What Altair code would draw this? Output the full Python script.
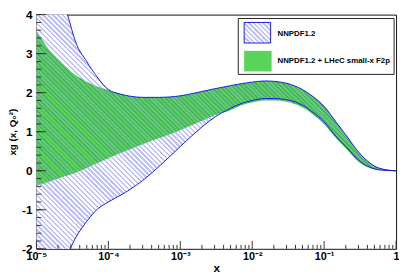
import altair as alt
import pandas as pd

# ---------------- data ----------------
xs = [1e-5, 1.5e-5, 2e-5, 2.7e-5, 3.5e-5, 5e-5, 7e-5, 1e-4, 1.5e-4, 2e-4, 3e-4,
      5e-4, 7e-4, 1e-3, 1.5e-3, 2e-3, 3e-3, 5e-3, 7e-3, 1e-2, 1.5e-2, 2e-2, 3e-2,
      5e-2, 7e-2, 0.1, 0.15, 0.2, 0.3, 0.4, 0.5, 0.7, 1.0]
# NNPDF1.2 band
nn_up = [7.0, 5.3, 4.6, 4.0, 3.3, 2.8, 2.4, 2.08, 1.96, 1.91, 1.88,
         1.88, 1.89, 1.92, 1.98, 2.03, 2.10, 2.18, 2.23, 2.27, 2.30, 2.29, 2.24,
         2.08, 1.90, 1.65, 1.22, 0.92, 0.48, 0.25, 0.12, 0.03, 0.0]
nn_lo = [-3.8, -3.1, -2.6, -2.15, -1.72, -1.3, -0.99, -0.80, -0.62, -0.48, -0.25,
         0.10, 0.35, 0.62, 0.92, 1.12, 1.37, 1.60, 1.72, 1.80, 1.85, 1.85, 1.82,
         1.68, 1.50, 1.25, 0.86, 0.62, 0.27, 0.12, 0.05, 0.01, 0.0]
# NNPDF1.2 + LHeC small-x F2p band
lh_up = [3.59, 3.1, 2.85, 2.62, 2.45, 2.28, 2.16, 2.07, 1.96, 1.91, 1.88,
         1.88, 1.89, 1.92, 1.98, 2.03, 2.10, 2.18, 2.23, 2.27, 2.30, 2.29, 2.24,
         2.08, 1.90, 1.65, 1.22, 0.92, 0.48, 0.25, 0.12, 0.03, 0.0]
lh_lo = [-0.38, -0.28, -0.20, -0.12, -0.05, 0.07, 0.19, 0.32, 0.46, 0.55, 0.68,
         0.83, 0.93, 1.04, 1.18, 1.28, 1.42, 1.55, 1.67, 1.75, 1.80, 1.80, 1.77,
         1.62, 1.44, 1.19, 0.81, 0.57, 0.23, 0.09, 0.03, 0.0, -0.01]

x_ticks = [1e-5, 1e-4, 1e-3, 1e-2, 1e-1, 1.0]
x_tick_labels = ["10⁻⁵", "10⁻⁴", "10⁻³", "10⁻²", "10⁻¹", "1"]
y_ticks = [-2, -1, 0, 1, 2, 3, 4]
y_tick_labels = ["-2", "-1", "0", "1", "2", "3", "4"]
legend_labels = ["NNPDF1.2", "NNPDF1.2 + LHeC small-x F2p"]

# ---------------- layout / style ----------------
W, H = 367, 239
YMIN, YMAX = -2, 4
FONT = "Liberation Sans"
BLUE = "#1a1ae8"
HATCH = "#c2c2fa"
GREEN = "#58d458"
GREEN_HATCH = "#52a87c"

df = pd.DataFrame({"x": xs, "nn_up": nn_up, "nn_lo": nn_lo,
                   "lh_up": lh_up, "lh_lo": lh_lo})

xscale = alt.Scale(type="log", domain=[1e-5, 1], nice=False)
yscale = alt.Scale(domain=[YMIN, YMAX], nice=False, zero=False)


def hatch(bw, bh, period, c_line, c_bg, frac):
    n = max(1, round((bw + bh) / period))
    s = (bw + bh) / (bw * bw + bh * bh)
    stops = []
    for i in range(n):
        a, b, c = i / n, (i + frac) / n, (i + 1) / n
        stops += [alt.GradientStop(offset=a, color=c_line),
                  alt.GradientStop(offset=b, color=c_line),
                  alt.GradientStop(offset=b, color=c_bg),
                  alt.GradientStop(offset=c, color=c_bg)]
    return alt.Gradient(gradient="linear", stops=stops,
                        x1=0, y1=1, x2=bw * s, y2=1 - bh * s)


ppu = H / (YMAX - YMIN)
blue_h = (max(nn_up) - min(nn_lo)) * ppu
green_h = (max(lh_up) - min(lh_lo)) * ppu

X_AXIS = alt.Axis(values=x_ticks, title="x", grid=False, ticks=False,
                  domain=False, labelFont=FONT, labelFontWeight="bold",
                  labelFontSize=11, labelColor="black", labelPadding=2,
                  labelFlush=False, labelOverlap=False,
                  labelExpr="[" + ",".join("'%s'" % t for t in x_tick_labels)
                  + "][round(log(datum.value)/LN10)+5]",
                  titleFont=FONT, titleFontWeight="bold", titleFontSize=12,
                  titleColor="black", titlePadding=1)
Y_AXIS = alt.Axis(values=y_ticks, title="xg (x, Q₀²)", grid=False, ticks=False,
                  domain=False, labels=False,
                  titleFont=FONT, titleFontWeight="bold", titleFontSize=10,
                  titleColor="black", titlePadding=19)


def X(field):
    return alt.X(field, type="quantitative", scale=xscale, axis=X_AXIS)


def Y(field):
    return alt.Y(field, type="quantitative", scale=yscale, axis=Y_AXIS)


base = alt.Chart(df)
blue_area = base.mark_area(fill=hatch(W, blue_h, 5.0, HATCH, "#ffffff", 0.5),
                           clip=True, interpolate="monotone").encode(
    x=X("x"), y=Y("nn_up"), y2="nn_lo:Q")

green_area = base.mark_area(fill=hatch(W, green_h, 4.5, GREEN_HATCH, GREEN, 0.4),
                            clip=True, interpolate="monotone").encode(
    x=X("x"), y=Y("lh_up"), y2="lh_lo:Q")

up_line = base.mark_line(color=BLUE, strokeWidth=1, clip=True,
                         interpolate="monotone").encode(x=X("x"), y=Y("nn_up"))
lo_line = base.mark_line(color=BLUE, strokeWidth=1, clip=True,
                         interpolate="monotone").encode(x=X("x"), y=Y("nn_lo"))

# inward tick marks (ROOT style)
x_minor = [k * d for d in [1e-5, 1e-4, 1e-3, 1e-2, 1e-1] for k in range(2, 10)]
y_minor = [round(YMIN + 0.2 * i, 1) for i in range(31)]
xt_major = alt.Chart(pd.DataFrame({"x": x_ticks})).mark_rule(color="#333", strokeWidth=1).encode(
    x=X("x"), y=alt.value(H), y2=alt.value(H - 8))
xt_minor = alt.Chart(pd.DataFrame({"x": x_minor})).mark_rule(color="#333", strokeWidth=1).encode(
    x=X("x"), y=alt.value(H), y2=alt.value(H - 4))
yt_major = alt.Chart(pd.DataFrame({"nn_up": y_ticks})).mark_rule(color="#333", strokeWidth=1).encode(
    y=Y("nn_up"), x=alt.value(0), x2=alt.value(10))
yt_minor = alt.Chart(pd.DataFrame({"nn_up": y_minor})).mark_rule(color="#333", strokeWidth=1).encode(
    y=Y("nn_up"), x=alt.value(0), x2=alt.value(5))
# y tick labels
y_lab = alt.Chart(pd.DataFrame({"nn_up": y_ticks, "t": y_tick_labels})).mark_text(
    align="right", baseline="middle", font=FONT, fontWeight="bold", fontSize=12,
    color="black").encode(y=Y("nn_up"), x=alt.value(-4), text="t:N")

# legend box
one = pd.DataFrame({"a": [0]})
leg_box = alt.Chart(one).mark_rect(
    fill="white", stroke="#222", strokeWidth=1).encode(
    x=alt.value(206), x2=alt.value(365), y=alt.value(4), y2=alt.value(61))
leg_blue = alt.Chart(one).mark_rect(
    fill=hatch(27, 21, 5.0, HATCH, "#ffffff", 0.5), stroke=BLUE, strokeWidth=1).encode(
    x=alt.value(212), x2=alt.value(239), y=alt.value(8), y2=alt.value(29))
leg_green = alt.Chart(one).mark_rect(fill=GREEN).encode(
    x=alt.value(212), x2=alt.value(240), y=alt.value(37), y2=alt.value(58))
leg_text1 = alt.Chart(one).mark_text(
    align="left", baseline="middle", font=FONT, fontWeight="bold", fontSize=8,
    color="black", text=legend_labels[0]).encode(x=alt.value(246), y=alt.value(19.5))
leg_text2 = alt.Chart(one).mark_text(
    align="left", baseline="middle", font=FONT, fontWeight="bold", fontSize=8,
    color="black", text=legend_labels[1]).encode(x=alt.value(246), y=alt.value(47.5))

chart = alt.layer(blue_area, green_area, up_line, lo_line,
                  xt_major, xt_minor, yt_major, yt_minor, y_lab,
                  leg_box, leg_blue, leg_green, leg_text1, leg_text2).properties(
    width=W, height=H,
    autosize=alt.AutoSizeParams(type="none"),
    padding={"left": 29, "top": 4, "right": 3, "bottom": 25},
    background="white",
).configure_view(stroke="#111", strokeWidth=1)

chart.save("out.html", embed_options={"renderer": "svg", "actions": False})
